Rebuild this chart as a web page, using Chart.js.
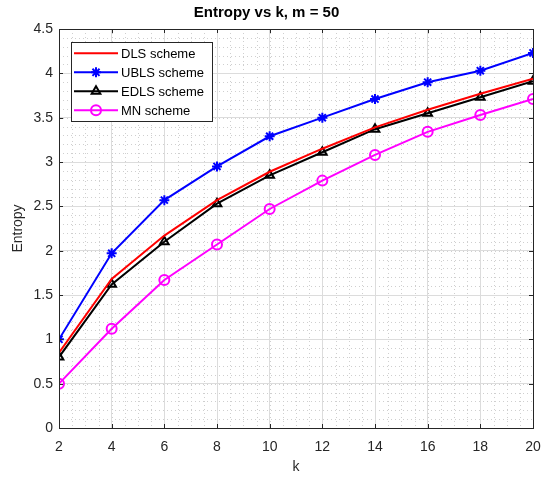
<!DOCTYPE html>
<html>
<head>
<meta charset="utf-8">
<script src="https://cdn.jsdelivr.net/npm/chart.js@4/dist/chart.umd.min.js"></script>
<style>
  html, body { margin: 0; padding: 0; background: #ffffff; }
  #wrap { width: 543px; height: 480px; position: relative; }
</style>
</head>
<body>
<div id="wrap"><canvas id="c" width="543" height="480"></canvas></div>
<script>
const kValues = [2, 4, 6, 8, 10, 12, 14, 16, 18, 20];
const dlsValues  = [0.85, 1.68, 2.17, 2.57, 2.89, 3.15, 3.39, 3.59, 3.77, 3.94];
const ublsValues = [1.00, 1.97, 2.57, 2.95, 3.29, 3.50, 3.71, 3.90, 4.03, 4.23];
const edlsValues = [0.80, 1.62, 2.10, 2.53, 2.85, 3.11, 3.37, 3.55, 3.73, 3.91];
const mnValues   = [0.50, 1.12, 1.67, 2.07, 2.47, 2.79, 3.08, 3.34, 3.53, 3.71];
const seriesLabels = ['DLS scheme', 'UBLS scheme', 'EDLS scheme', 'MN scheme'];
const titleText = 'Entropy vs k, m = 50';
const xTitle = 'k';
const yTitle = 'Entropy';

const FONT = "'Liberation Sans', Arial, Helvetica, sans-serif";
const AXC = '#262626';

function pts(vals) { return kValues.map((k, i) => ({ x: k, y: vals[i] })); }

const minorGrid = {
  id: 'minorGrid',
  beforeDraw(chart) {
    const { ctx, chartArea: a, scales: { x, y } } = chart;
    ctx.save();
    ctx.fillStyle = '#ffffff';
    ctx.fillRect(a.left, a.top, a.right - a.left, a.bottom - a.top);
    ctx.strokeStyle = '#cfcfcf';
    ctx.lineWidth = 1;
    ctx.setLineDash([1, 3]);
    for (let v = 2; v <= 20.0001; v += 0.5) {
      const px = Math.round(x.getPixelForValue(v)) + 0.5;
      ctx.beginPath(); ctx.moveTo(px, a.top); ctx.lineTo(px, a.bottom); ctx.stroke();
    }
    for (let v = 0; v <= 4.5001; v += 0.1) {
      const py = Math.round(y.getPixelForValue(v)) + 0.5;
      ctx.beginPath(); ctx.moveTo(a.left, py); ctx.lineTo(a.right, py); ctx.stroke();
    }
    ctx.restore();
  }
};

const boxAndLegend = {
  id: 'boxAndLegend',
  afterDatasetsDraw(chart) {
    const { ctx, chartArea: a, scales: { x, y } } = chart;
    ctx.save();
    ctx.strokeStyle = AXC;
    ctx.lineWidth = 1;
    ctx.setLineDash([]);
    ctx.strokeRect(Math.round(a.left) + 0.5, Math.round(a.top) + 0.5,
                   Math.round(a.right - a.left), Math.round(a.bottom - a.top));
    const tl = 4;
    x.ticks.forEach(t => {
      const px = Math.round(x.getPixelForValue(t.value)) + 0.5;
      ctx.beginPath(); ctx.moveTo(px, a.bottom); ctx.lineTo(px, a.bottom - tl); ctx.stroke();
      ctx.beginPath(); ctx.moveTo(px, a.top); ctx.lineTo(px, a.top + tl); ctx.stroke();
    });
    y.ticks.forEach(t => {
      const py = Math.round(y.getPixelForValue(t.value)) + 0.5;
      ctx.beginPath(); ctx.moveTo(a.left, py); ctx.lineTo(a.left + tl, py); ctx.stroke();
      ctx.beginPath(); ctx.moveTo(a.right, py); ctx.lineTo(a.right - tl, py); ctx.stroke();
    });
    // legend
    const lx = a.left + 12, ly = a.top + 13, lw = 141, lh = 79;
    ctx.fillStyle = '#ffffff';
    ctx.fillRect(lx, ly, lw, lh);
    ctx.strokeStyle = AXC;
    ctx.lineWidth = 1;
    ctx.strokeRect(lx + 0.5, ly + 0.5, lw, lh);
    ctx.font = '13px ' + FONT;
    ctx.textBaseline = 'middle';
    ctx.textAlign = 'left';
    chart.data.datasets.forEach((ds, i) => {
      const cy = ly + 11.3 + i * 19;
      ctx.strokeStyle = ds.borderColor;
      ctx.lineWidth = 2;
      ctx.beginPath(); ctx.moveTo(lx + 3, cy); ctx.lineTo(lx + 47, cy); ctx.stroke();
      if (ds.pointStyle && ds.pointRadius > 0) {
        ctx.strokeStyle = ds.pointBorderColor;
        ctx.fillStyle = ds.pointBackgroundColor;
        ctx.lineWidth = ds.pointBorderWidth;
        Chart.helpers.drawPoint(ctx, {
          pointStyle: ds.pointStyle, radius: ds.pointRadius, rotation: 0,
          borderWidth: ds.pointBorderWidth
        }, lx + 25, cy);
      }
      ctx.fillStyle = '#000000';
      ctx.fillText(ds.label, lx + 50, cy + 1);
    });
    ctx.restore();
  }
};

new Chart(document.getElementById('c'), {
  type: 'line',
  data: {
    datasets: [
      { label: seriesLabels[0], data: pts(dlsValues), borderColor: '#ff0000', backgroundColor: '#ff0000',
        borderWidth: 2, pointRadius: 0, pointStyle: false, tension: 0 },
      { label: seriesLabels[1], data: pts(ublsValues), borderColor: '#0000ff', backgroundColor: '#0000ff',
        borderWidth: 2, pointStyle: 'star', pointRadius: 5, pointBorderWidth: 2,
        pointBorderColor: '#0000ff', pointBackgroundColor: '#0000ff', tension: 0 },
      { label: seriesLabels[2], data: pts(edlsValues), borderColor: '#000000', backgroundColor: '#000000',
        borderWidth: 2, pointStyle: 'triangle', pointRadius: 5, pointBorderWidth: 2,
        pointBorderColor: '#000000', pointBackgroundColor: 'rgba(255,255,255,0)', tension: 0 },
      { label: seriesLabels[3], data: pts(mnValues), borderColor: '#ff00ff', backgroundColor: '#ff00ff',
        borderWidth: 2, pointStyle: 'circle', pointRadius: 5, pointBorderWidth: 2,
        pointBorderColor: '#ff00ff', pointBackgroundColor: 'rgba(255,255,255,0)', tension: 0 }
    ]
  },
  options: {
    responsive: false,
    animation: false,
    devicePixelRatio: 1,
    layout: { padding: { left: 0, right: 10, top: 0, bottom: 0 } },
    plugins: {
      legend: { display: false },
      tooltip: { enabled: false },
      title: {
        display: true, text: titleText, color: '#000000',
        font: { family: FONT, size: 15, weight: 'bold', lineHeight: 1.2 },
        padding: { top: 4, bottom: 7 }
      }
    },
    scales: {
      x: {
        type: 'linear', min: 2, max: 20,
        afterFit(s) { s.height = 52; s.paddingRight = 0; s.paddingLeft = 0; },
        ticks: { stepSize: 2, color: AXC, padding: 11, maxRotation: 0,
                 font: { family: FONT, size: 14 },
                 callback: (v) => String(v) },
        grid: { color: '#dcdcdc', drawTicks: false, lineWidth: 1 },
        border: { display: false },
        title: { display: true, text: xTitle, color: AXC,
                 font: { family: FONT, size: 14 }, padding: { top: 0, bottom: 4 } }
      },
      y: {
        type: 'linear', min: 0, max: 4.5,
        afterFit(s) { s.width = 59; },
        ticks: { stepSize: 0.5, color: AXC, padding: 6,
                 font: { family: FONT, size: 14 },
                 callback: (v) => String(v) },
        grid: { color: '#dcdcdc', drawTicks: false, lineWidth: 1 },
        border: { display: false },
        title: { display: true, text: yTitle, color: AXC,
                 font: { family: FONT, size: 14 }, padding: { top: 9.6, bottom: 0 } }
      }
    }
  },
  plugins: [minorGrid, boxAndLegend]
});
</script>
</body>
</html>
